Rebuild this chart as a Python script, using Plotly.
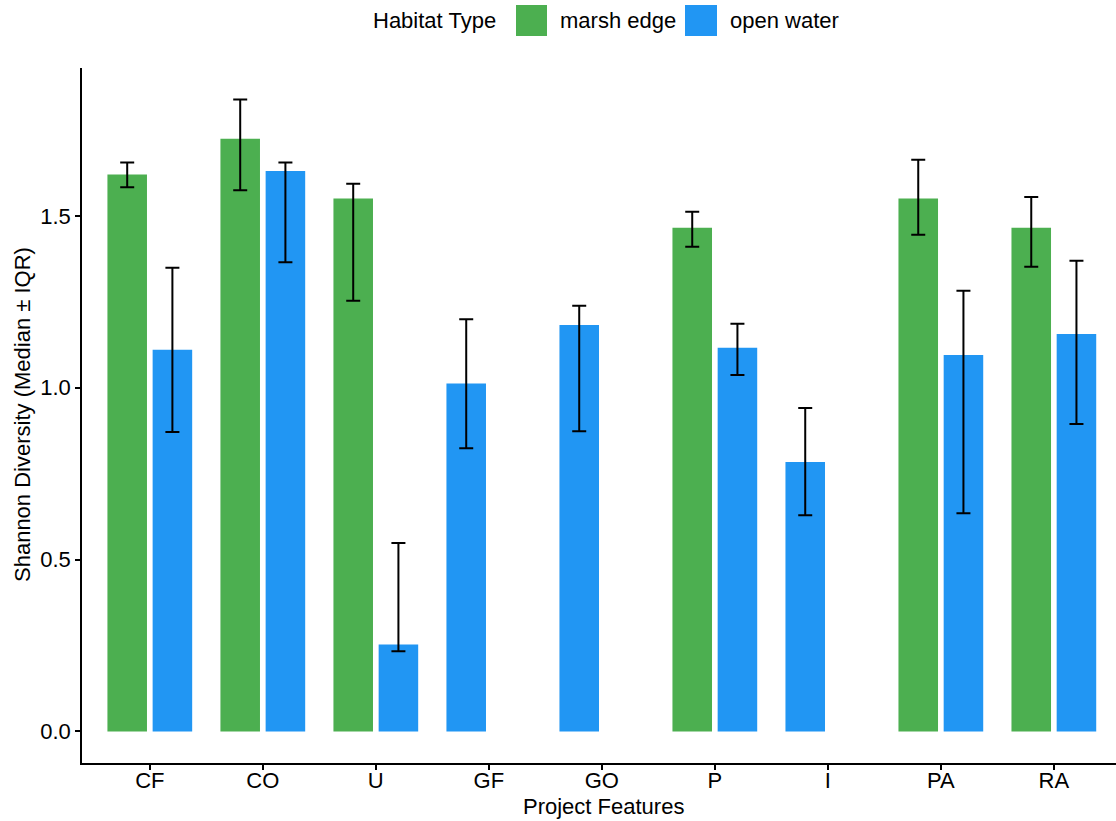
import plotly.graph_objects as go

# ---- data ----
categories = ["CF", "CO", "U", "GF", "GO", "P", "I", "PA", "RA"]

marsh_median = [1.620, 1.724, 1.550, None, None, 1.465, None, 1.550, 1.465]
marsh_q1     = [1.583, 1.574, 1.253, None, None, 1.410, None, 1.445, 1.352]
marsh_q3     = [1.655, 1.838, 1.593, None, None, 1.512, None, 1.663, 1.555]

open_median = [1.110, 1.630, 0.253, 1.012, 1.182, 1.116, 0.784, 1.095, 1.156]
open_q1     = [0.871, 1.365, 0.233, 0.824, 0.873, 1.037, 0.629, 0.635, 0.894]
open_q3     = [1.349, 1.655, 0.548, 1.199, 1.238, 1.186, 0.941, 1.282, 1.369]

y_ticks = [0.0, 0.5, 1.0, 1.5]
y_tick_labels = ["0.0", "0.5", "1.0", "1.5"]

GREEN = "#4CAF50"
BLUE = "#2196F3"
FONT = "Liberation Sans, Arial, sans-serif"
FS = 22

BAR_W = 0.35
# dodge: green left slot, blue right slot; lone blue bars take the left slot
marsh_offset = [-0.375] * len(categories)
open_offset = [(-0.375 if m is None else 0.025) for m in marsh_median]


def err(med, lo, hi):
    up = [(h - m) if m is not None else None for m, h in zip(med, hi)]
    dn = [(m - l) if m is not None else None for m, l in zip(med, lo)]
    return up, dn

mu, md = err(marsh_median, marsh_q1, marsh_q3)
ou, od = err(open_median, open_q1, open_q3)

fig = go.Figure()
fig.add_trace(go.Bar(
    x=categories, y=marsh_median, name="marsh edge",
    width=BAR_W, offset=marsh_offset,
    marker=dict(color=GREEN, line=dict(width=0)),
    error_y=dict(type="data", array=mu, arrayminus=md, symmetric=False,
                 color="black", thickness=2, width=7),
    showlegend=False,
))
fig.add_trace(go.Bar(
    x=categories, y=open_median, name="open water",
    width=BAR_W, offset=open_offset,
    marker=dict(color=BLUE, line=dict(width=0)),
    error_y=dict(type="data", array=ou, arrayminus=od, symmetric=False,
                 color="black", thickness=2, width=7),
    showlegend=False,
))

L, R, T, B = 82, 0, 68, 58
W, H = 1116, 821
pw, ph = W - L - R, H - T - B

def px_x(p):
    return (p - L) / pw

def px_y(p):
    return (H - B - p) / ph

txt = dict(family=FONT, size=FS, color="black")

# manual legend (ggplot style)
shapes = [
    dict(type="rect", xref="paper", yref="paper",
         x0=px_x(516), x1=px_x(547), y0=px_y(36), y1=px_y(5),
         fillcolor=GREEN, line=dict(width=0)),
    dict(type="rect", xref="paper", yref="paper",
         x0=px_x(685), x1=px_x(717), y0=px_y(36), y1=px_y(5),
         fillcolor=BLUE, line=dict(width=0)),
]
annotations = [
    dict(text="Habitat Type", xref="paper", yref="paper", x=px_x(371), y=px_y(21),
         xanchor="left", yanchor="middle", showarrow=False, font=txt),
    dict(text="marsh edge", xref="paper", yref="paper", x=px_x(558), y=px_y(21),
         xanchor="left", yanchor="middle", showarrow=False, font=txt),
    dict(text="open water", xref="paper", yref="paper", x=px_x(728), y=px_y(21),
         xanchor="left", yanchor="middle", showarrow=False, font=txt),
    # axis titles
    dict(text="Project Features", xref="paper", yref="paper",
         x=px_x(603), y=px_y(807), xanchor="center", yanchor="middle",
         showarrow=False, font=txt, borderpad=0),
    dict(text="Shannon Diversity (Median ± IQR)", xref="paper", yref="paper",
         x=px_x(22), y=px_y(415), xanchor="center", yanchor="middle",
         textangle=-90, showarrow=False, font=txt),
]

fig.update_layout(
    width=W, height=H,
    margin=dict(l=L, r=R, t=T, b=B, pad=0),
    paper_bgcolor="white", plot_bgcolor="white",
    barmode="overlay",
    font=txt,
    shapes=shapes, annotations=annotations,
    xaxis=dict(
        type="category", categoryorder="array", categoryarray=categories,
        range=[-0.6, 8.55],
        showline=True, linecolor="black", linewidth=1.6,
        ticks="outside", ticklen=5, tickwidth=1.6, tickcolor="black",
        showgrid=False, zeroline=False,
        tickfont=txt, ticklabelstandoff=-8,
    ),
    yaxis=dict(
        range=[-0.0919, 1.93],
        tickvals=y_ticks, ticktext=y_tick_labels,
        showline=True, linecolor="black", linewidth=1.6,
        ticks="outside", ticklen=5, tickwidth=1.6, tickcolor="black",
        showgrid=False, zeroline=False,
        tickfont=txt,
    ),
)

fig.write_html("out.html")
